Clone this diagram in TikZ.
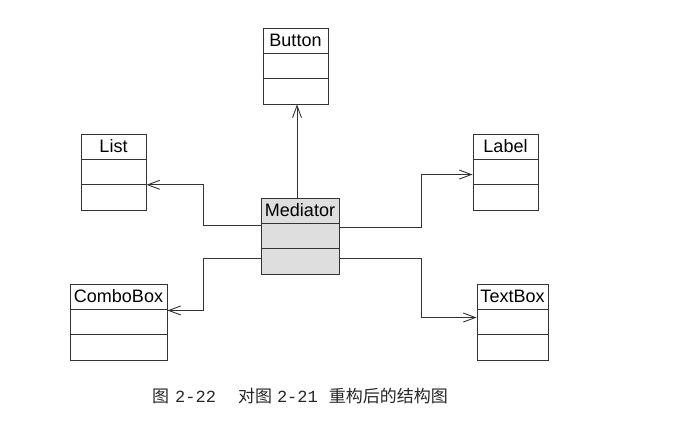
\documentclass[tikz,border=0pt]{standalone}
\usepackage{fontspec}
\setmainfont{Liberation Sans}
\newfontfamily\cjk{Noto Sans CJK SC}
\newfontfamily\capmono{Liberation Mono}
\usetikzlibrary{arrows.meta,calc,fit}
\definecolor{linegray}{HTML}{333333}
\definecolor{medfill}{HTML}{DEDEDE}
\tikzset{
  clsbox/.style={draw=linegray, line width=0.9pt, inner sep=0pt},
  clsname/.style={font=\fontsize{18}{20}\selectfont, text=black, inner sep=0pt, anchor=base},
  divider/.style={draw=linegray, line width=0.9pt},
  assoc/.style={draw=linegray, line width=0.9pt, -{Straight Barb[length=12pt,width=9pt]}},
  captionstyle/.style={font=\fontsize{17}{20}\selectfont, text=black!85, inner sep=0pt},
}
\newcommand\umlclass[6]{% name,left,top,right,label,fill
  \coordinate (#1-nw) at (#2,#3);
  \coordinate (#1-se) at (#4,{#3+76});
  \node[clsbox, fill=#6, fit=(#1-nw)(#1-se)] (#1) {};
  \draw[divider] ($(#1.north west)!1/3!(#1.south west)$) -- ($(#1.north east)!1/3!(#1.south east)$);
  \draw[divider] ($(#1.north west)!2/3!(#1.south west)$) -- ($(#1.north east)!2/3!(#1.south east)$);
  \node[clsname] (#1-name) at ($(#1.north)+(0,19)$) {#5};
}
\begin{document}
\begin{tikzpicture}[x=1pt,y=-1pt]
  \useasboundingbox[fill=white] (0,0) rectangle (682,427);
  \umlclass{button}{263}{28}{328}{Button}{white}
  \umlclass{list}{81}{134}{146}{List}{white}
  \umlclass{label}{473}{134}{538}{Label}{white}
  \umlclass{mediator}{261}{198}{339}{Mediator}{medfill}
  \umlclass{combobox}{70}{284}{167}{ComboBox}{white}
  \umlclass{textbox}{477}{284}{548}{TextBox}{white}

  \coordinate (jl) at (203,0);
  \coordinate (jr) at (421,0);
  \coordinate (mtop) at ($(mediator.north)+(-3,0)$);
  \coordinate (ml1) at ($(mediator.north west)+(0,28)$);
  \coordinate (ml2) at ($(mediator.north west)+(0,61)$);
  \coordinate (mr1) at ($(mediator.north east)+(0,30)$);
  \coordinate (mr2) at ($(mediator.north east)+(0,61)$);
  \coordinate (lt) at ($(list.north east)!2/3!(list.south east)$);
  \coordinate (ct) at ($(combobox.north east)!0.35!(combobox.south east)$);
  \coordinate (lbt) at ($(label.north west)+(0,41)$);
  \coordinate (tt) at ($(textbox.north west)+(0,34)$);

  \draw[assoc] (mtop) -- (mtop |- button.south);
  \draw[assoc] (ml1) -- (ml1 -| jl) |- (lt);
  \draw[assoc] (ml2) -- (ml2 -| jl) |- (ct);
  \draw[assoc] (mr1) -- (mr1 -| jr) |- (lbt);
  \draw[assoc] (mr2) -- (mr2 -| jr) |- (tt);

  \node[captionstyle] (caption) at (300,396) {\cjk 图\hspace{6pt}\capmono 2-22\hspace{22pt}\cjk 对图\hspace{5pt}\capmono 2-21\hspace{11pt}\cjk 重构后的结构图};
\end{tikzpicture}
\end{document}
